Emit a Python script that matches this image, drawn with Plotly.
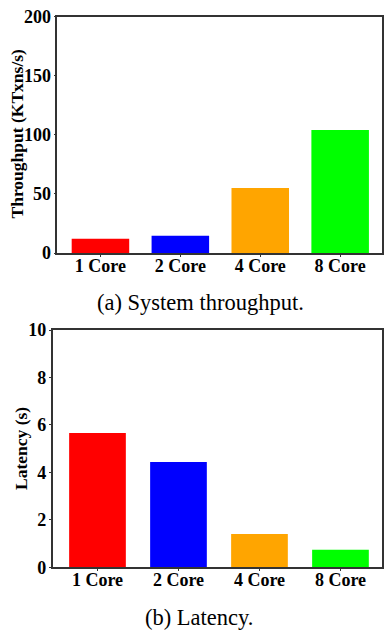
import plotly.graph_objects as go

categories = ["1 Core", "2 Core", "4 Core", "8 Core"]
throughput = [12, 14.5, 55, 104]
latency = [5.66, 4.44, 1.40, 0.74]
colors = ["#ff0000", "#0000ff", "#ffa500", "#00ff00"]

W, H = 384, 632
fig = go.Figure()
fig.add_trace(go.Bar(x=categories, y=throughput, marker=dict(color=colors, line=dict(width=0)),
                     width=0.72, xaxis="x", yaxis="y", showlegend=False))
fig.add_trace(go.Bar(x=categories, y=latency, marker=dict(color=colors, line=dict(width=0)),
                     width=0.70, xaxis="x2", yaxis="y2", showlegend=False))

tickfont = dict(family="Liberation Serif", size=18, color="black", weight="bold")
axcommon = dict(showline=True, mirror=True, linecolor="#333333", linewidth=1.5,
                ticks="outside", ticklen=2, tickcolor="#333333", showgrid=False,
                zeroline=False, tickfont=tickfont, automargin=False)

def px_x(a, b):
    return [a / W, b / W]

def px_y(top, bottom):
    return [1 - bottom / H, 1 - top / H]

fig.update_layout(
    width=W, height=H, margin=dict(l=0, r=0, t=0, b=0, pad=0, autoexpand=False),
    paper_bgcolor="white", plot_bgcolor="white", bargap=0.28,
    xaxis=dict(domain=px_x(57.3, 381.7), anchor="y", type="category",
               range=[-0.54, 3.52], ticklabelstandoff=-6, **axcommon),
    yaxis=dict(domain=px_y(16.7, 253), anchor="x", range=[0, 200],
               tickvals=[0, 50, 100, 150, 200], ticklabelstandoff=-1, **axcommon),
    xaxis2=dict(domain=px_x(52.7, 381.7), anchor="y2", type="category",
                range=[-0.553, 3.509], ticklabelstandoff=-7, **axcommon),
    yaxis2=dict(domain=px_y(330, 567.3), anchor="x2", range=[0, 10],
                tickvals=[0, 2, 4, 6, 8, 10], ticklabelstandoff=-1, **axcommon),
)

titlefont = dict(family="Liberation Serif", size=17.5, color="black", weight="bold")
capfont = dict(family="Liberation Serif", size=22.5, color="black")
fig.add_annotation(text="Throughput (KTxns/s)", x=16.5 / W, y=1 - 134 / H, xref="paper", yref="paper",
                   textangle=-90, showarrow=False, font=titlefont, xanchor="center", yanchor="middle")
fig.add_annotation(text="Latency (s)", x=21 / W, y=1 - 449 / H, xref="paper", yref="paper",
                   textangle=-90, showarrow=False, font=titlefont, xanchor="center", yanchor="middle")
fig.add_annotation(text="(a) System throughput.", x=200 / W, y=1 - 302 / H, xref="paper", yref="paper",
                   showarrow=False, font=capfont, xanchor="center", yanchor="middle")
fig.add_annotation(text="(b) Latency.", x=199 / W, y=1 - 617 / H, xref="paper", yref="paper",
                   showarrow=False, font=capfont, xanchor="center", yanchor="middle")

fig.write_html("out.html")
